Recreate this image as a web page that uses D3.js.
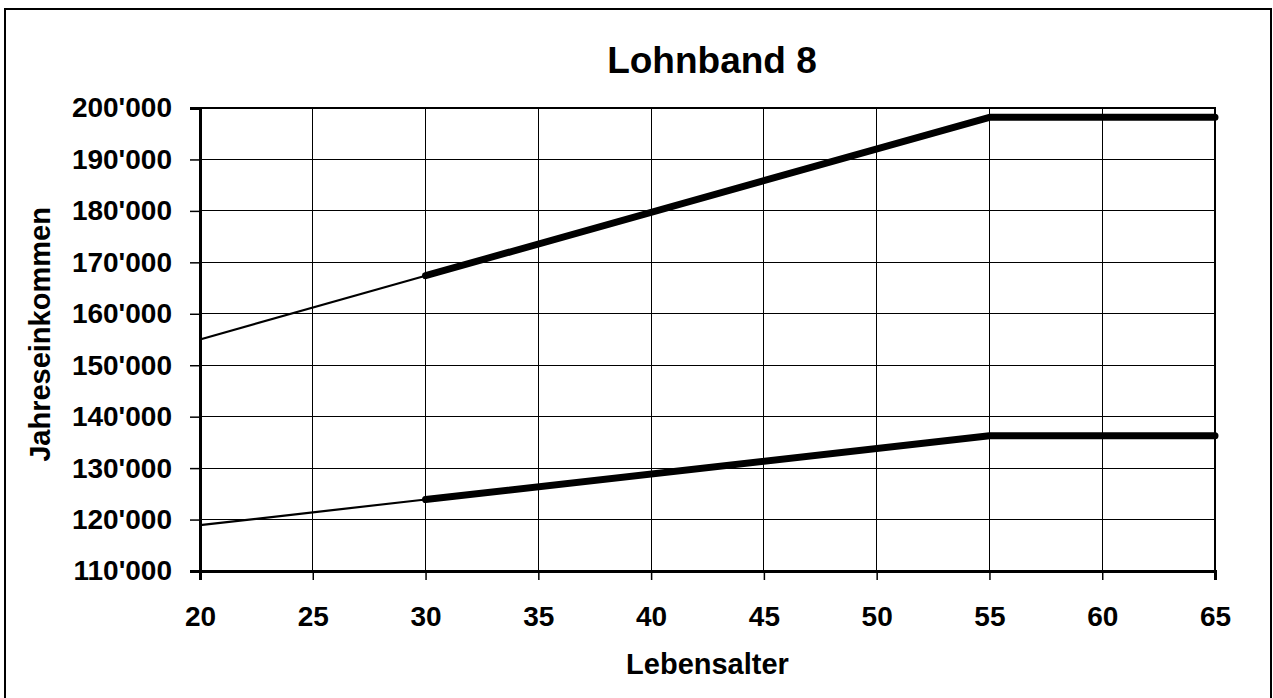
<!DOCTYPE html>
<html>
<head>
<meta charset="utf-8">
<script src="https://cdn.jsdelivr.net/npm/d3@7"></script>
<style>
  html, body { margin: 0; padding: 0; background: #fff; }
  svg { display: block; font-family: "Liberation Sans", Arial, sans-serif; }
</style>
</head>
<body>
<svg id="chart" width="1273" height="698"></svg>
<script>
// ---- data ----
const title = "Lohnband 8";
const xTitle = "Lebensalter";
const yTitle = "Jahreseinkommen";
const xTicks = [20, 25, 30, 35, 40, 45, 50, 55, 60, 65];
const yTicks = [110000, 120000, 130000, 140000, 150000, 160000, 170000, 180000, 190000, 200000];
// ages at which the band changes
const ages = [20, 30, 55, 65];
const upperBand = [155000, 167400, 198200, 198200];
const lowerBand = [118900, 123900, 136300, 136300];
// the thin part (before 30) and the thick part (30 and above)
const thinAges = [20, 30];
const thickAges = [30, 55, 65];

// ---- layout ----
const svg = d3.select("#chart");
const plot = { left: 200, right: 1215, top: 108, bottom: 571 };

const x = d3.scaleLinear().domain([20, 65]).range([plot.left, plot.right]);
const y = d3.scaleLinear().domain([110000, 200000]).range([plot.bottom, plot.top]);

const locale = d3.formatLocale({ decimal: ".", thousands: "'", grouping: [3], currency: ["", ""] });
const fmt = locale.format(",");

// outer frame (bottom edge runs off the picture)
svg.append("rect")
  .attr("x", 5).attr("y", 9).attr("width", 1266).attr("height", 700)
  .attr("fill", "#fff").attr("stroke", "#000").attr("stroke-width", 2);

// grid
const grid = svg.append("g");
grid.selectAll("line.h").data(yTicks).join("line")
  .attr("x1", plot.left).attr("x2", plot.right)
  .attr("y1", d => y(d)).attr("y2", d => y(d))
  .attr("stroke", "#000").attr("stroke-width", 1).attr("shape-rendering", "crispEdges");
grid.selectAll("line.v").data(xTicks).join("line")
  .attr("y1", plot.top).attr("y2", plot.bottom)
  .attr("x1", d => x(d)).attr("x2", d => x(d))
  .attr("stroke", "#000").attr("stroke-width", 1).attr("shape-rendering", "crispEdges");

// plot border
svg.append("rect")
  .attr("x", plot.left).attr("y", plot.top)
  .attr("width", plot.right - plot.left).attr("height", plot.bottom - plot.top)
  .attr("fill", "none").attr("stroke", "#000").attr("stroke-width", 2);

// axes
const yAxis = d3.axisLeft(y).tickValues(yTicks).tickFormat(fmt).tickSize(10).tickPadding(18);
const xAxis = d3.axisBottom(x).tickValues(xTicks).tickFormat(d3.format("d")).tickSize(9).tickPadding(26);

const gy = svg.append("g").attr("transform", `translate(${plot.left},0)`).call(yAxis);
const gx = svg.append("g").attr("transform", `translate(0,${plot.bottom})`).call(xAxis);
[gy, gx].forEach(g => {
  g.select(".domain").attr("stroke", "#000").attr("stroke-width", 3);
  g.selectAll(".tick line").attr("stroke", "#000").attr("stroke-width", 1.5);
  g.selectAll(".tick text")
    .attr("fill", "#000")
    .style("font-family", "'Liberation Sans', Arial, sans-serif")
    .style("font-size", "28px").style("font-weight", "bold");
});

// series lines
const line = d3.line().x(d => x(d[0])).y(d => y(d[1]));
[upperBand, lowerBand].forEach(vals => {
  const pts = ages.map((a, i) => [a, vals[i]]);
  const thin = pts.filter(p => thinAges.includes(p[0]));
  const thick = pts.filter(p => thickAges.includes(p[0]));
  svg.append("path").attr("d", line(thin))
    .attr("fill", "none").attr("stroke", "#000").attr("stroke-width", 2.2);
  svg.append("path").attr("d", line(thick))
    .attr("fill", "none").attr("stroke", "#000").attr("stroke-width", 7)
    .attr("stroke-linecap", "round").attr("stroke-linejoin", "round");
});

// titles
svg.append("text")
  .attr("x", 712).attr("y", 73)
  .attr("text-anchor", "middle")
  .style("font-size", "37px").style("font-weight", "bold")
  .text(title);

svg.append("text")
  .attr("x", (plot.left + plot.right) / 2).attr("y", 674)
  .attr("text-anchor", "middle")
  .style("font-size", "29px").style("font-weight", "bold")
  .text(xTitle);

svg.append("text")
  .attr("transform", `translate(50,${(plot.top + plot.bottom) / 2 - 5}) rotate(-90)`)
  .attr("text-anchor", "middle")
  .style("font-size", "29px").style("font-weight", "bold")
  .text(yTitle);
</script>
</body>
</html>
